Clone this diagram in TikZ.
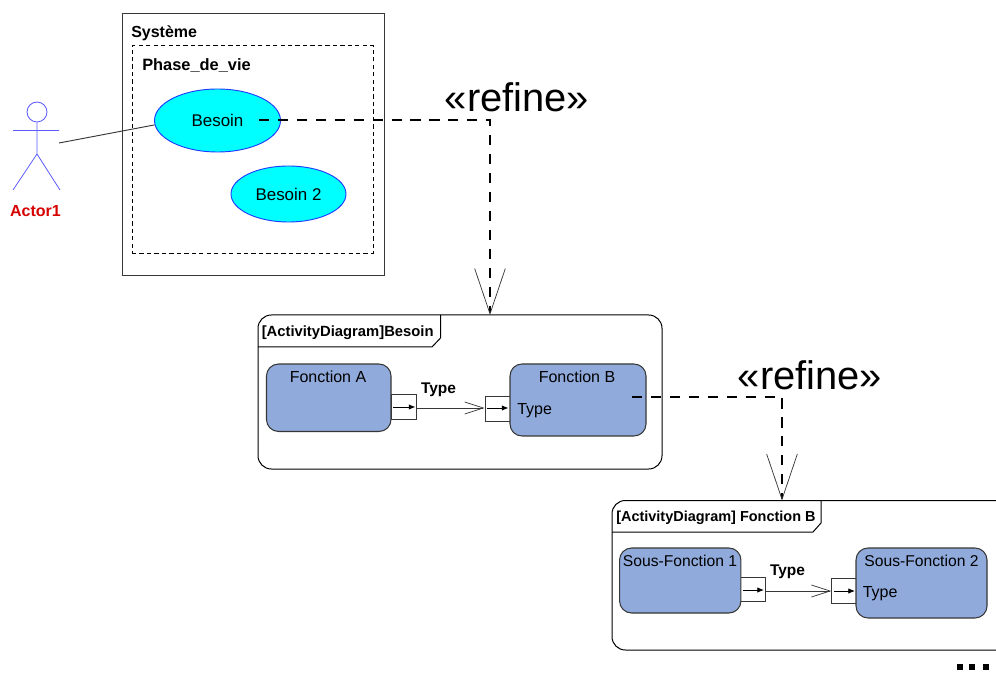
\documentclass[tikz,border=0pt]{standalone}
\usepackage{fontspec}
\setmainfont{Liberation Sans}
\usetikzlibrary{arrows.meta,shapes.geometric,calc}
\definecolor{fnblue}{RGB}{144,170,220}
\definecolor{actblue}{RGB}{90,90,255}
\definecolor{actred}{RGB}{214,0,0}
\definecolor{edgegray}{RGB}{55,55,55}
\definecolor{casecyan}{RGB}{0,255,255}
\definecolor{caseedge}{RGB}{30,60,255}
\tikzset{
  x=0.75pt,y=-0.75pt,
  norm/.style={font=\fontsize{12}{14}\selectfont,text=black,inner sep=0pt},
  sousf/.style={font=\fontsize{11.75}{14}\selectfont,text=black,inner sep=0pt},
  bold/.style={font=\fontsize{11.6}{14}\selectfont\bfseries,text=black,inner sep=0pt},
  refinetxt/.style={font=\fontsize{29.9}{34}\selectfont,text=black,inner sep=0pt},
  usecase/.style={ellipse,draw=caseedge,fill=casecyan,line width=0.7pt,inner sep=0pt,font=\fontsize{12.7}{14}\selectfont},
  fnbox/.style={draw=edgegray,fill=fnblue,rounded corners=9pt,line width=0.8pt,inner sep=0pt},
  portbox/.style={draw=edgegray,fill=white,line width=0.7pt,inner sep=0pt,minimum width=18.4pt,minimum height=18.4pt},
  refineline/.style={draw=black,line width=1.4pt,dash pattern=on 7.6pt off 6.6pt,
     -{Straight Barb[length=34pt,width=23pt,line width=0.55pt,color=edgegray]}},
  flow/.style={draw=edgegray,line width=0.7pt,-{Straight Barb[length=14pt,width=9pt,line width=0.55pt]}},
  inner/.style={draw=black,line width=0.6pt,-{Latex[length=5pt,width=4pt]}},
  frameline/.style={draw=black,line width=0.75pt},
  actor/.style={draw=actblue,line width=0.6pt},
}
\begin{document}
\begin{tikzpicture}
\useasboundingbox (0,0) rectangle (996,673);
% Systeme
\node[draw=edgegray,line width=0.7pt,inner sep=0pt,minimum width=196.9pt,minimum height=196.5pt] (sys) at (253.25,144) {};
\node[draw=black,line width=0.7pt,dash pattern=on 3.2pt off 2.4pt,inner sep=0pt,minimum width=181.1pt,minimum height=155.6pt] (phase) at (252.75,149.25) {};
\node[bold,anchor=west,font=\fontsize{12}{14}\selectfont\bfseries] (systitle) at (131,33) {Système};
\node[bold,anchor=west,font=\fontsize{12.3}{14}\selectfont\bfseries] (phasetitle) at (142,65.5) {Phase\_de\_vie};
\node[usecase,minimum width=94.5pt,minimum height=47.25pt] (besoin) at (217.5,120.5) {Besoin};
\node[usecase,minimum width=86.25pt,minimum height=42pt] (besoin2) at (288.5,194) {Besoin 2};
% Actor
\node[circle,actor,minimum size=15pt,inner sep=0pt] (head) at (37,112) {};
\coordinate (neck) at (37,154);
\coordinate (armL) at (13,130.5);
\coordinate (armR) at (59,130.5);
\coordinate (legL) at (13,190);
\coordinate (legR) at (60,190);
\coordinate (hand) at (59,143);
\draw[actor] (head.south) -- (neck) (armL) -- (armR) (legL) -- (neck) -- (legR);
\node[bold,text=actred,font=\fontsize{12}{14}\selectfont\bfseries] (actorlabel) at (35.5,211) {Actor1};
\draw[draw=edgegray,line width=0.7pt] (hand) -- (besoin.184);
% Frame 1
\coordinate (f1tl) at (258,315);
\coordinate (f1br) at (662,469);
\draw[frameline,rounded corners=10pt] (f1tl) rectangle (f1br);
\coordinate (f1top) at (490,315);
\draw[frameline] (440.5,315) -- (440.5,338) -- (432,347) -- (258,347);
\node[bold,anchor=west,font=\fontsize{11.1}{14}\selectfont\bfseries] (f1title) at (261.5,333) {[ActivityDiagram]Besoin};
\node[portbox,minimum width=18.75pt,minimum height=18.75pt] (pa) at (403.5,406.5) {};
\node[portbox,minimum width=18.75pt,minimum height=18.75pt] (pb) at (497.5,408.5) {};
\node[fnbox,minimum width=93.4pt,minimum height=50.6pt] (fa) at (328.75,397.75) {};
\node[fnbox,minimum width=102pt,minimum height=54pt] (fb) at (578,400) {};
\node[norm] (fat) at (328,376.5) {Fonction A};
\node[norm] (fbt) at (577,376.5) {Fonction B};
\node[norm,anchor=west] (fbp) at (517,410.5) {Type};
\node[bold] (t1) at (438.5,389.5) {Type};
\draw[flow] (pa.east |- 0,408) -- (pb.west |- 0,408);
\draw[inner] (393,407) -- (415.5,407);
\draw[inner] (487,408) -- (508.5,408);
% Frame 2
\coordinate (f2top) at (782,500.5);
\draw[frameline,rounded corners=10pt] (1010,500.5) -- (612,500.5) -- (612,650) -- (1010,650);
\draw[frameline] (821,500.5) -- (821,523) -- (813,532) -- (612,532);
\node[bold,anchor=west,font=\fontsize{10.85}{14}\selectfont\bfseries] (f2title) at (616,518) {[ActivityDiagram] Fonction B};
\node[portbox] (p1) at (753,589.5) {};
\node[portbox] (p2) at (844,591) {};
\node[fnbox,minimum width=91pt,minimum height=48.75pt] (s1) at (680.25,580.5) {};
\node[fnbox,minimum width=98.25pt,minimum height=52.5pt] (s2) at (921.5,583) {};
\node[sousf] (s1t) at (680,561) {Sous-Fonction 1};
\node[sousf] (s2t) at (921.5,561) {Sous-Fonction 2};
\node[norm,anchor=west] (s2p) at (862.5,593.5) {Type};
\node[bold] (t2) at (787.5,571.5) {Type};
\draw[flow] (p1.east |- 0,591) -- (p2.west |- 0,591);
\draw[inner] (743,590) -- (764,590);
\draw[inner] (834,591) -- (855,591);
% Refine links
\coordinate (r1s) at (259,120);
\coordinate (r2s) at (632,397);
\draw[refineline] (r1s) -| (f1top);
\draw[refineline] (r2s) -| (f2top);
\node[refinetxt] (ref1) at (517,97) {«refine»};
\node[refinetxt] (ref2) at (810,375) {«refine»};
% dots
\foreach \n/\xx in {d1/960,d2/972,d3/986}
  \node[fill=black,inner sep=0pt,minimum size=4.8pt] (\n) at (\xx,667) {};
\end{tikzpicture}
\end{document}
